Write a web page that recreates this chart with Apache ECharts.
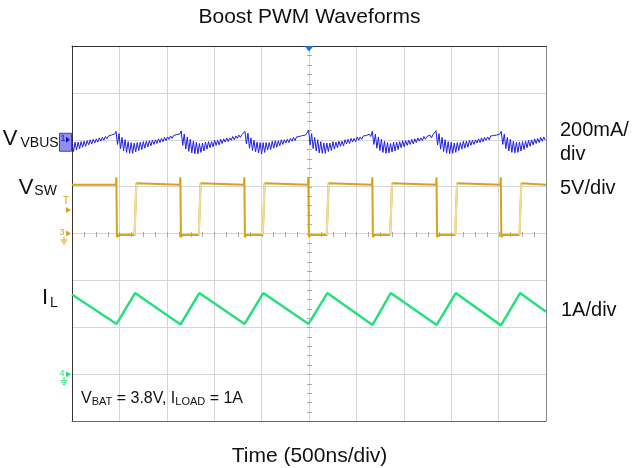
<!DOCTYPE html>
<html><head><meta charset="utf-8">
<script src="https://cdn.jsdelivr.net/npm/echarts@6/dist/echarts.min.js"></script>
<style>html,body{margin:0;padding:0;background:#fff}#c{width:634px;height:468px}</style>
</head><body><div id="c"></div>
<script>
// ---- axis setup (oscilloscope: 10 x 500 ns divisions, 8 vertical divisions) ----
const timeMaxNs = 5000;
const timeDivNs = 500;
const vertDivs = 8;

// ---- V_VBUS trace, sampled every 16 ns, in divisions ----
const vbusStepNs = 16;
const vbusValues = [
  5.94,5.75,5.95,5.78,5.95,5.81,5.96,5.84,5.97,5.86,5.98,5.89,6.00,5.91,6.01,5.93,6.02,5.95,6.04,5.97,6.05,5.99,6.07,6.02,6.08,6.04,6.10,6.06,6.12,
  6.18,5.90,6.13,5.81,6.05,5.76,6.00,5.73,5.96,5.71,5.94,5.71,5.93,5.74,5.94,5.77,5.95,5.79,5.96,5.82,5.97,5.85,5.98,5.87,5.99,5.90,6.00,5.92,6.02,5.94,6.03,5.96,6.05,5.98,6.06,6.01,6.08,6.03,6.09,6.05,6.11,6.07,6.12,
  6.19,5.88,6.12,5.80,6.06,5.75,6.01,5.72,5.97,5.70,5.95,5.70,5.92,5.73,5.93,5.76,5.95,5.80,5.96,5.83,5.96,5.85,5.99,5.88,5.99,5.89,6.01,5.92,6.02,5.95,6.04,5.96,6.04,5.99,6.07,6.00,6.08,6.03,6.10,6.05,6.11,6.08,
  6.18,5.91,6.14,5.82,6.04,5.77,5.99,5.74,5.95,5.72,5.94,5.70,5.94,5.73,5.94,5.78,5.94,5.79,5.97,5.82,5.98,5.84,5.98,5.87,6.00,5.90,6.00,5.93,6.01,5.94,6.03,5.97,6.05,5.98,6.06,6.02,6.07,6.03,6.09,6.06,6.10,6.07,
  6.20,5.89,6.13,5.81,6.05,5.76,6.00,5.72,5.96,5.71,5.93,5.71,5.93,5.75,5.93,5.77,5.96,5.80,5.95,5.83,5.97,5.86,5.97,5.87,6.00,5.91,6.01,5.92,6.03,5.95,6.03,5.96,6.06,5.99,6.06,6.01,6.08,6.04,6.09,6.05,6.12,6.07,
  6.18,5.90,6.12,5.82,6.06,5.77,6.01,5.73,5.97,5.71,5.94,5.72,5.92,5.74,5.95,5.76,5.95,5.79,5.96,5.83,5.98,5.85,5.98,5.88,5.99,5.90,6.01,5.91,6.02,5.94,6.04,5.97,6.04,5.98,6.07,6.01,6.07,6.03,6.10,6.04,6.11,6.07,
  6.19,5.89,6.13,5.80,6.05,5.75,6.00,5.72,5.96,5.70,5.95,5.71,5.93,5.73,5.94,5.77,5.94,5.80,5.97,5.82,5.97,5.84,5.99,5.88,5.99,5.90,6.00,5.93,6.02,5.94,6.04,5.96,6.05,5.99,6.06,6.00,6.08,6.04,6.09,6.06,6.10,6.07,6.12,
  6.18,5.90,6.12,5.81,6.05,5.76,6.01,5.73,5.97,5.72,5.95,5.73,5.95,5.76,5.96,5.79,5.97,5.83,5.99,5.86,6.00,5.89,6.02,5.92,6.03,5.94,6.05,5.97,6.06,5.99
];

// ---- V_SW switching node: edge times (ns) and levels (div) ----
const vswFallNs = [470, 1145, 1820, 2495, 3170, 3847, 4525];
const vswRiseNs = [665, 1343, 2018, 2693, 3362, 4048, 4726];
const vswHighDiv = 5.04;
const vswLowDiv = 3.97;
const vswSpikeDiv = 5.20;
const vswUndershootDiv = 3.92;

// ---- I_L inductor current: vertices (ns, div) ----
const ilTimesNs  = [0, 470, 665, 1145, 1343, 1820, 2018, 2495, 2693, 3170, 3362, 3847, 4048, 4525, 4726, 5000];
const ilValuesDiv = [2.70, 2.07, 2.73, 2.06, 2.73, 2.07, 2.73, 2.07, 2.73, 2.05, 2.73, 2.05, 2.73, 2.04, 2.73, 2.33];

// ---- channel reference levels (div) ----
const ch1LevelDiv = 6.0;
const trigLevelDiv = 4.5;
const ch3LevelDiv = 4.0;
const ch4LevelDiv = 1.0;
const trigTimeNs = 2500;

// ---- texts ----
const titleText = 'Boost PWM Waveforms';
const xNameText = 'Time (500ns/div)';
const scaleTexts = ['200mA/', 'div', '5V/div', '1A/div'];

const FONT = '"Liberation Sans", Arial, sans-serif';
const BLUE = '#1e1ee6', GOLD = '#d6a31a', GOLD_LIGHT = '#f0dc9c', GREEN = '#27e07c';

const vbusData = vbusValues.map((v, i) => [i * vbusStepNs, v]);

const vswData = [[0, vswHighDiv]];
const vswRiseData = [];
vswFallNs.forEach((f, i) => {
  const r = vswRiseNs[i];
  vswData.push([f - 6, vswHighDiv], [f - 2, vswSpikeDiv], [f + 4, vswUndershootDiv], [f + 20, vswLowDiv],
               [r - 6, vswLowDiv], [r + 14, vswHighDiv + 0.03], [r + 30, vswHighDiv]);
  vswRiseData.push([r - 6, vswLowDiv], [r + 14, vswHighDiv + 0.03], ['-', '-']);
});
vswData.push([timeMaxNs, vswHighDiv]);

const ilData = ilTimesNs.map((t, i) => [t, ilValuesDiv[i]]);

// center-line graduation ticks
const tickData = [];
for (let t = 125; t < timeMaxNs; t += 125) tickData.push([t, 4, 0]);
for (let v = 0.2; v < vertDivs - 0.01; v += 0.2) tickData.push([trigTimeNs, +v.toFixed(2), 1]);

const chart = echarts.init(document.getElementById('c'), null, {renderer: 'canvas'});
const grid = {left: 72, right: 88, top: 46, bottom: 47};
const gridLine = {show: true, lineStyle: {color: '#d6d6d6', width: 1}};

chart.setOption({
  animation: false,
  backgroundColor: '#fff',
  grid: grid,
  xAxis: [
    {type: 'value', min: 0, max: timeMaxNs, interval: timeDivNs, position: 'bottom',
     axisLine: {show: true, onZero: false, lineStyle: {color: '#666', width: 1}},
     axisTick: {show: false}, axisLabel: {show: false}, splitLine: gridLine},
    {type: 'value', min: 0, max: timeMaxNs, interval: timeDivNs, position: 'top',
     axisLine: {show: true, onZero: false, lineStyle: {color: '#333', width: 1}},
     axisTick: {show: false}, axisLabel: {show: false}, splitLine: {show: false}}
  ],
  yAxis: [
    {type: 'value', min: 0, max: vertDivs, interval: 1, position: 'left',
     axisLine: {show: true, onZero: false, lineStyle: {color: '#333', width: 1}},
     axisTick: {show: false}, axisLabel: {show: false}, splitLine: gridLine},
    {type: 'value', min: 0, max: vertDivs, interval: 1, position: 'right',
     axisLine: {show: true, onZero: false, lineStyle: {color: '#8a8a8a', width: 1}},
     axisTick: {show: false}, axisLabel: {show: false}, splitLine: {show: false}}
  ],
  series: [
    {type: 'custom', name: 'ticks', data: tickData, encode: {x: 0, y: 1}, z: 1, silent: true,
     renderItem: function (params, api) {
       const p = api.coord([api.value(0), api.value(1)]);
       const L = 2.5;
       const x = Math.round(p[0]) + 0.5, y = Math.round(p[1]) + 0.5;
       const shape = api.value(2) === 0 ? {x1: x, y1: y - L, x2: x, y2: y + L} : {x1: x - L, y1: y, x2: x + L, y2: y};
       return {type: 'line', shape: shape, style: {stroke: '#aaaaaa', lineWidth: 1}};
     }},
    {type: 'line', name: 'VBUS', data: vbusData, showSymbol: false, symbol: 'none', z: 3,
     lineStyle: {color: BLUE, width: 1}},
    {type: 'line', name: 'VSW', data: vswData, showSymbol: false, symbol: 'none', z: 3,
     lineStyle: {color: GOLD, width: 2}},
    {type: 'line', name: 'VSW rise', data: vswRiseData, showSymbol: false, symbol: 'none', z: 4, connectNulls: false,
     lineStyle: {color: GOLD_LIGHT, width: 2}},
    {type: 'line', name: 'IL', data: ilData, showSymbol: false, symbol: 'none', z: 3,
     lineStyle: {color: GREEN, width: 2.5}}
  ]
});

const px = (t, v) => chart.convertToPixel({gridIndex: 0}, [t, v]);
const left = px(0, 0)[0];
const topY = px(0, vertDivs)[1];
const trigX = px(trigTimeNs, 0)[0];
const y1 = px(0, ch1LevelDiv)[1];
const yT = px(0, trigLevelDiv)[1];
const y3 = px(0, ch3LevelDiv)[1];
const y4 = px(0, ch4LevelDiv)[1];

function txt(text, x, y, size, align, color, vAlign) {
  return {type: 'text', x: x, y: y, silent: true, z: 20,
    style: {text: text, fill: color || '#111', font: size + 'px ' + FONT, align: align || 'left', verticalAlign: vAlign || 'middle'}};
}
function arrow(y, color) {
  return {type: 'polygon', z: 20, silent: true, shape: {points: [[left - 6, y - 3], [left - 1, y], [left - 6, y + 3]]}, style: {fill: color}};
}
function ground(x, y, color) {
  return {type: 'group', z: 20, silent: true, children: [
    {type: 'line', shape: {x1: x, y1: y, x2: x, y2: y + 3}, style: {stroke: color, lineWidth: 1}},
    {type: 'line', shape: {x1: x - 3.5, y1: y + 3.5, x2: x + 3.5, y2: y + 3.5}, style: {stroke: color, lineWidth: 1}},
    {type: 'line', shape: {x1: x - 2.5, y1: y + 5.5, x2: x + 2.5, y2: y + 5.5}, style: {stroke: color, lineWidth: 1}},
    {type: 'line', shape: {x1: x - 1.2, y1: y + 7.5, x2: x + 1.2, y2: y + 7.5}, style: {stroke: color, lineWidth: 1}}
  ]};
}

const graphics = [
  txt(titleText, 309.5, 17.5, 21, 'center', '#111'),
  txt(xNameText, 309.5, 456, 21, 'center', '#111'),
  // left channel names
  txt('V', 17.5, 138.5, 22, 'right'), txt('VBUS', 20.5, 143.5, 14, 'left'),
  txt('V', 33.5, 187.5, 22, 'right'), txt('SW', 34.3, 191.5, 14, 'left'),
  txt('I', 48, 297.5, 22, 'right'), txt('L', 50, 303.5, 14, 'left'),
  // right scale labels
  txt(scaleTexts[0], 560, 130.5, 20, 'left'), txt(scaleTexts[1], 560, 154.5, 20, 'left'),
  txt(scaleTexts[2], 560, 188.5, 20, 'left'), txt(scaleTexts[3], 561, 310.5, 20, 'left'),
  // operating condition
  {type: 'text', x: 81, y: 407, z: 20, silent: true, style: {
    text: '{m|V}{s|BAT}{m| = 3.8V, I}{s|LOAD}{m| = 1A}', verticalAlign: 'bottom', align: 'left',
    rich: {m: {font: '16px ' + FONT, fill: '#111', lineHeight: 16, verticalAlign: 'bottom'},
           s: {font: '11px ' + FONT, fill: '#111', lineHeight: 11, verticalAlign: 'bottom'}}}},
  // trigger position marker (top)
  {type: 'polygon', z: 20, silent: true, shape: {points: [[trigX - 4.5, topY], [trigX + 4.5, topY], [trigX, topY + 5.5]]}, style: {fill: '#1f6fe0'}},
  // channel 1 marker
  {type: 'rect', z: 19, silent: true, shape: {x: left - 12.5, y: y1 - 6.5, width: 12, height: 18}, style: {fill: '#9090f2', stroke: '#3b3be0', lineWidth: 1}},
  txt('1', left - 9, y1 - 1, 9, 'center', '#1616b8'),
  {type: 'polygon', z: 20, silent: true, shape: {points: [[left - 6, y1 - 3], [left - 2, y1], [left - 6, y1 + 3]]}, style: {fill: '#1616b8'}},
  ground(left - 8.5, y1 + 3, '#1616b8'),
  // trigger level marker
  txt('T', left - 6, yT - 8.5, 10, 'center', GOLD),
  arrow(yT, GOLD),
  // channel 3 ground marker
  txt('3', left - 10, y3 - 0.5, 9, 'center', GOLD),
  arrow(y3, GOLD),
  ground(left - 8, y3 + 3, GOLD),
  // channel 4 ground marker
  txt('4', left - 10, y4 - 0.5, 9, 'center', GREEN),
  arrow(y4, GREEN),
  ground(left - 8, y4 + 3, GREEN)
];
chart.setOption({graphic: graphics});
</script></body></html>
